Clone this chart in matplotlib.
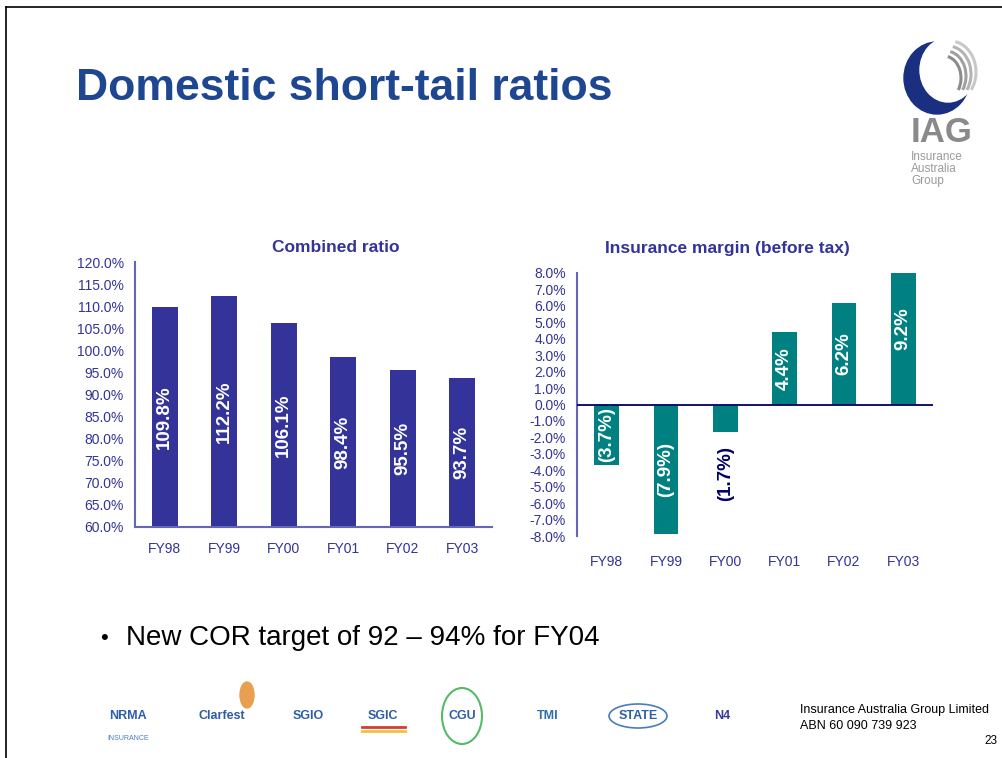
import matplotlib
matplotlib.use("Agg")
import matplotlib.pyplot as plt
from matplotlib.patches import Ellipse, Arc
from matplotlib.ticker import FuncFormatter

plt.rcParams['font.family'] = ['Liberation Sans', 'DejaVu Sans']

# ---- data ----
categories = ["FY98", "FY99", "FY00", "FY01", "FY02", "FY03"]
combined_ratio = [109.8, 112.2, 106.1, 98.4, 95.5, 93.7]
insurance_margin = [-3.7, -7.9, -1.7, 4.4, 6.2, 9.2]
margin_labels = ["(3.7%)", "(7.9%)", "(1.7%)", "4.4%", "6.2%", "9.2%"]
combined_labels = ["109.8%", "112.2%", "106.1%", "98.4%", "95.5%", "93.7%"]
cr_ticks = list(range(60, 121, 5))
im_ticks = list(range(-8, 9, 1))

W, H = 1002, 758
fig = plt.figure(figsize=(W / 100, H / 100), dpi=100)

# background overlay in pixel coordinates
bg = fig.add_axes([0, 0, 1, 1])
bg.set_xlim(0, W)
bg.set_ylim(H, 0)
bg.axis("off")

# slide border (top and left)
bg.plot([6, W], [7, 7], color="black", lw=1.2)
bg.plot([6, 6], [7, H], color="black", lw=1.2)

# title
bg.text(76, 88, "Domestic short-tail ratios", fontsize=32, fontweight="bold",
        color="#1F4690", va="center", ha="left")

# IAG logo (approximation)
bg.add_patch(Ellipse((937, 78), 66, 72, color="#1B2F80"))
bg.add_patch(Ellipse((948, 70), 56, 64, color="white"))
for i, c in enumerate(["#C8C8C8", "#B4B4B4", "#A0A0A0", "#8C8C8C"]):
    bg.add_patch(Arc((950 - i * 2, 72 + i * 2), 52 - i * 6, 62 - i * 6,
                     theta1=-80, theta2=40, ec=c, lw=2.2))
bg.text(942, 132, "IAG", fontsize=25, fontweight="bold", color="#8A8A8A",
        ha="center", va="center")
bg.text(911, 151, "Insurance\nAustralia\nGroup", fontsize=8.5, color="#9A9A9A",
        ha="left", va="top", linespacing=1.0)

mid = "#333399"
spine_c = "#6666B8"

def pct(v, pos):
    return f"{v:.1f}%"

# ---- left chart: Combined ratio ----
axL = fig.add_axes([135 / W, 1 - 527 / H, 357 / W, 265 / H])
xs = list(range(len(categories)))
axL.bar(xs, combined_ratio, width=0.44, color="#333399", zorder=2)
axL.set_xlim(-0.5, len(categories) - 0.5)
axL.set_ylim(cr_ticks[0], cr_ticks[-1])
axL.set_yticks(cr_ticks)
axL.yaxis.set_major_formatter(FuncFormatter(pct))
axL.set_xticks(xs)
axL.set_xticklabels(categories)
for s in ["top", "right"]:
    axL.spines[s].set_visible(False)
for s in ["left", "bottom"]:
    axL.spines[s].set_color(spine_c)
    axL.spines[s].set_linewidth(1.5)
axL.tick_params(axis="both", length=0, labelsize=10, labelcolor=mid)
axL.tick_params(axis="y", pad=8)
axL.tick_params(axis="x", pad=11)
for x, v, lab in zip(xs, combined_ratio, combined_labels):
    axL.text(x, (cr_ticks[0] + v) / 2, lab, rotation=90, ha="center", va="center",
             color="white", fontsize=13.5, fontweight="bold", zorder=3)
fig.text(336 / W, 1 - 248 / H, "Combined ratio", ha="center", va="center",
         fontsize=12.5, fontweight="bold", color=mid)

# ---- right chart: Insurance margin ----
axR = fig.add_axes([577 / W, 1 - 536 / H, 356 / W, 263 / H])
axR.bar(xs, insurance_margin, width=0.42, color="#008080", zorder=2)
axR.set_xlim(-0.5, len(categories) - 0.5)
axR.set_ylim(im_ticks[0], im_ticks[-1])
axR.set_yticks(im_ticks)
axR.yaxis.set_major_formatter(FuncFormatter(pct))
axR.set_xticks(xs)
axR.set_xticklabels(categories)
for s in ["top", "right", "bottom"]:
    axR.spines[s].set_visible(False)
axR.spines["left"].set_color(spine_c)
axR.spines["left"].set_linewidth(1.5)
axR.axhline(0, color="#000066", lw=1.3, zorder=3)
axR.tick_params(axis="both", length=0, labelsize=10, labelcolor=mid)
axR.tick_params(axis="y", pad=8)
axR.tick_params(axis="x", pad=14)
for x, v, lab in zip(xs, insurance_margin, margin_labels):
    if abs(v) < 2:
        axR.annotate(lab, (x, v), xytext=(0, -10), textcoords="offset points",
                     rotation=90, ha="center", va="top", color="#000066",
                     fontsize=13.5, fontweight="bold", zorder=4)
    else:
        axR.text(x, v / 2, lab, rotation=90, ha="center", va="center",
                 color="white", fontsize=13.5, fontweight="bold", zorder=4)
fig.text(727 / W, 1 - 249 / H, "Insurance margin (before tax)", ha="center",
         va="center", fontsize=12.5, fontweight="bold", color=mid)

# bullet
bg.text(100, 638, "•", fontsize=16, color="black", ha="left", va="center")
bg.text(126, 638, "New COR target of 92 – 94% for FY04", fontsize=20,
        color="black", ha="left", va="center")

# brand logos (text approximations)
brands = [("NRMA", 128, "#2E5DA8"), ("Clarfest", 222, "#2E5DA8"),
          ("SGIO", 308, "#2E5DA8"), ("SGIC", 383, "#2E5DA8"),
          ("CGU", 462, "#2E5DA8"), ("TMI", 548, "#2E6FB0"),
          ("STATE", 638, "#2E5DA8"), ("N4", 722, "#3A3A99")]
for name, x, c in brands:
    bg.text(x, 716, name, fontsize=9, fontweight="bold", color=c,
            ha="center", va="center")
bg.text(128, 738, "INSURANCE", fontsize=5, color="#4A7BC0", ha="center", va="center")
bg.add_patch(Ellipse((462, 716), 40, 56, fill=False, ec="#55BB66", lw=1.5))
bg.add_patch(Ellipse((247, 695), 14, 26, color="#E8A050"))
bg.plot([362, 405], [727, 727], color="#D04030", lw=2)
bg.plot([362, 405], [731, 731], color="#F0C040", lw=2)
bg.add_patch(Ellipse((638, 716), 58, 24, fill=False, ec="#4A7BC0", lw=1.2))

# footer
bg.text(800, 710, "Insurance Australia Group Limited", fontsize=9, color="black",
        ha="left", va="center")
bg.text(800, 726, "ABN 60 090 739 923", fontsize=9, color="black",
        ha="left", va="center")
bg.text(997, 741, "23", fontsize=8.5, color="black", ha="right", va="center")

fig.savefig("out.png", dpi=100)
